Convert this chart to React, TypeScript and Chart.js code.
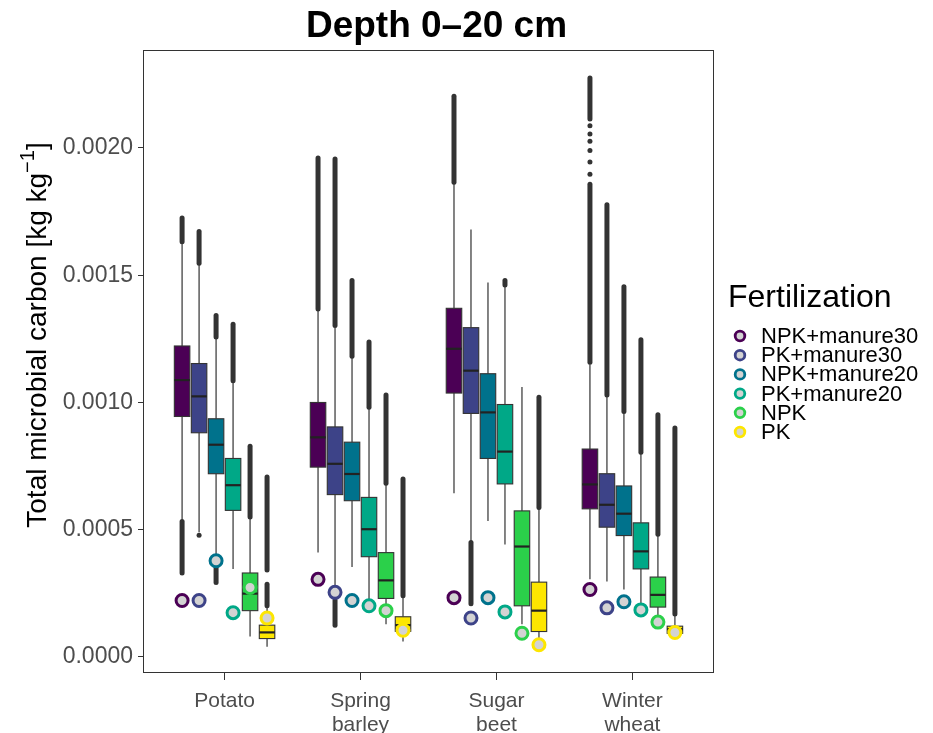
import React, { useEffect, useRef } from 'react';
import { Chart, registerables } from 'chart.js';

Chart.register(...registerables);

const FONT = '"Liberation Sans", Arial, Helvetica, sans-serif';

const chartTitle = 'Depth 0–20 cm';
const yAxisTitleMain = 'Total microbial carbon [kg kg';
const yAxisTitleSup = '−1';
const yAxisTitleEnd = ']';
const legendTitle = 'Fertilization';

const crops = ['Potato', 'Spring barley', 'Sugar beet', 'Winter wheat'];
const cropTickLabels = [['Potato'], ['Spring', 'barley'], ['Sugar', 'beet'], ['Winter', 'wheat']];
const fertilization = ['NPK+manure30', 'PK+manure30', 'NPK+manure20', 'PK+manure20', 'NPK', 'PK'];
const fertColors = ['#4B0055', '#3D4388', '#00728C', '#00A887', '#2BD04A', '#FDE600'];
const yTickValues = [0, 0.0005, 0.001, 0.0015, 0.002];
const yAxisMin = -0.000063;
const yAxisMax = 0.002385;

// rows: fertilization (order above); columns: crops (order above)
const q1Values = [
  [0.000945, 0.000746, 0.001037, 0.000582],
  [0.000881, 0.000638, 0.000957, 0.00051],
  [0.00072, 0.000614, 0.00078, 0.000477],
  [0.000576, 0.000394, 0.00068, 0.000346],
  [0.000182, 0.00023, 0.000201, 0.000196],
  [0.0000723, 0.000101, 0.0001, 0.000093],
];
const medianValues = [
  [0.001088, 0.000863, 0.001211, 0.000678],
  [0.001024, 0.000759, 0.001125, 0.000598],
  [0.000834, 0.000719, 0.000961, 0.000563],
  [0.000675, 0.000502, 0.000807, 0.000415],
  [0.000249, 0.000301, 0.000434, 0.000244],
  [0.0000965, 0.000125, 0.000182, 0.000109],
];
const q3Values = [
  [0.001222, 0.001, 0.00137, 0.000817],
  [0.001153, 0.000904, 0.001294, 0.00072],
  [0.000936, 0.000844, 0.001113, 0.000672],
  [0.00078, 0.000627, 0.000992, 0.000527],
  [0.00033, 0.00041, 0.000574, 0.000314],
  [0.000125, 0.000158, 0.000294, 0.000121],
];
const whiskerLowValues = [
  [0.000539, 0.00041, 0.000643, 0.000305],
  [0.00049, 0.000228, 0.000455, 0.000297],
  [0.000356, 0.000354, 0.000534, 0.000265],
  [0.000346, 0.000209, 0.000442, 0.000209],
  [0.00008, 0.000129, 0.000129, 0.000153],
  [0.00004, 0.000061, 0.000072, 0.000085],
];
const whiskerHighValues = [
  [0.001625, 0.00136, 0.00186, 0.00115],
  [0.00154, 0.001295, 0.00168, 0.001025],
  [0.00125, 0.001175, 0.001471, 0.00096],
  [0.00108, 0.000975, 0.001455, 0.0008],
  [0.000545, 0.000678, 0.001061, 0.000478],
  [0.000198, 0.000238, 0.000582, 0.000165],
];
const observedValues = [
  [0.000222, 0.000305, 0.000233, 0.000265],
  [0.000222, 0.000254, 0.000153, 0.000193],
  [0.000378, 0.000222, 0.000233, 0.000217],
  [0.000174, 0.000201, 0.000177, 0.000185],
  [0.000273, 0.000182, 0.000093, 0.000137],
  [0.000153, 0.000105, 0.000048, 0.000096],
];
// outlier runs [low, high]; a single outlier has low === high
const outlierRuns = [
  [
    [[0.00033, 0.000532], [0.001632, 0.001725]],
    [[0.001367, 0.001961]],
    [[0.001865, 0.002203]],
    [[0.001158, 0.001857], [0.001897, 0.001897], [0.001945, 0.001945], [0.00199, 0.00199], [0.002026, 0.002026], [0.002055, 0.002055], [0.002087, 0.002087], [0.002114, 0.002275]],
  ],
  [
    [[0.000478, 0.000478], [0.001547, 0.001672]],
    [[0.000125, 0.000222], [0.001302, 0.001957]],
    [[0.000209, 0.00045]],
    [[0.001029, 0.001777]],
  ],
  [
    [[0.000293, 0.00035], [0.001257, 0.001342]],
    [[0.001182, 0.001479]],
    [],
    [[0.000965, 0.001455]],
  ],
  [
    [[0.001085, 0.001307]],
    [[0.000981, 0.001238]],
    [[0.001462, 0.001479]],
    [[0.000804, 0.001246]],
  ],
  [
    [[0.00055, 0.000828]],
    [[0.000683, 0.001029]],
    [],
    [[0.000482, 0.000952]],
  ],
  [
    [[0.000201, 0.000286], [0.000342, 0.000707]],
    [[0.000241, 0.000699]],
    [[0.000587, 0.001021]],
    [[0.000169, 0.0009]],
  ],
];

const DODGE = 0.125;
const BOX_WIDTH = 0.114;
const groupX = (f: number, c: number) => c + 1 + (f - (fertilization.length - 1) / 2) * DODGE;

const boxPlugin = {
  id: 'boxplots',
  beforeDatasetsDraw(chart: any) {
    const { ctx, chartArea, scales } = chart;
    const xs = scales.x;
    const ys = scales.y;
    ctx.save();
    ctx.beginPath();
    ctx.rect(chartArea.left, chartArea.top, chartArea.right - chartArea.left, chartArea.bottom - chartArea.top);
    ctx.clip();
    fertilization.forEach((_, f) => {
      crops.forEach((__, c) => {
        const xc = groupX(f, c);
        const px = xs.getPixelForValue(xc);
        const x0 = xs.getPixelForValue(xc - BOX_WIDTH / 2);
        const x1 = xs.getPixelForValue(xc + BOX_WIDTH / 2);
        const yq1 = ys.getPixelForValue(q1Values[f][c]);
        const yq3 = ys.getPixelForValue(q3Values[f][c]);
        const ymed = ys.getPixelForValue(medianValues[f][c]);
        const ywl = ys.getPixelForValue(whiskerLowValues[f][c]);
        const ywh = ys.getPixelForValue(whiskerHighValues[f][c]);
        // outliers
        ctx.strokeStyle = '#333333';
        ctx.fillStyle = '#333333';
        ctx.lineCap = 'round';
        ctx.lineWidth = 5;
        outlierRuns[f][c].forEach(([lo, hi]) => {
          const ylo = ys.getPixelForValue(lo);
          const yhi = ys.getPixelForValue(hi);
          if (lo === hi) {
            ctx.beginPath();
            ctx.arc(px, ylo, 2.5, 0, Math.PI * 2);
            ctx.fill();
          } else {
            ctx.beginPath();
            ctx.moveTo(px, yhi);
            ctx.lineTo(px, ylo);
            ctx.stroke();
          }
        });
        // whiskers
        ctx.lineCap = 'butt';
        ctx.lineWidth = 1.2;
        ctx.strokeStyle = '#333333';
        ctx.beginPath();
        ctx.moveTo(px, ywh);
        ctx.lineTo(px, yq3);
        ctx.moveTo(px, yq1);
        ctx.lineTo(px, ywl);
        ctx.stroke();
        // box
        ctx.fillStyle = fertColors[f];
        ctx.fillRect(x0, yq3, x1 - x0, yq1 - yq3);
        ctx.lineWidth = 1.1;
        ctx.strokeStyle = '#333333';
        ctx.strokeRect(x0, yq3, x1 - x0, yq1 - yq3);
        // median
        ctx.lineWidth = 2.2;
        ctx.strokeStyle = '#222222';
        ctx.beginPath();
        ctx.moveTo(x0, ymed);
        ctx.lineTo(x1, ymed);
        ctx.stroke();
      });
    });
    ctx.restore();
  },
  afterDraw(chart: any) {
    const { ctx, chartArea } = chart;
    ctx.save();
    // panel border
    ctx.strokeStyle = '#333333';
    ctx.lineWidth = 1;
    ctx.strokeRect(
      Math.round(chartArea.left) + 0.5,
      Math.round(chartArea.top) + 0.5,
      Math.round(chartArea.right - chartArea.left) - 1,
      Math.round(chartArea.bottom - chartArea.top) - 1
    );
    // title
    ctx.fillStyle = '#000000';
    ctx.font = `bold 37px ${FONT}`;
    ctx.textAlign = 'center';
    ctx.textBaseline = 'alphabetic';
    ctx.fillText(chartTitle, (chartArea.left + chartArea.right) / 2 + 8, 37);

    // y-axis title with superscript
    ctx.save();
    ctx.translate(36, 335);
    ctx.rotate(-Math.PI / 2);
    const mainFont = `28px ${FONT}`;
    const supFont = `20px ${FONT}`;
    ctx.font = mainFont;
    const wMain = ctx.measureText(yAxisTitleMain).width;
    const wEnd = ctx.measureText(yAxisTitleEnd).width;
    ctx.font = supFont;
    const wSup = ctx.measureText(yAxisTitleSup).width;
    let sx = -(wMain + wSup + wEnd) / 2;
    ctx.textAlign = 'left';
    ctx.textBaseline = 'alphabetic';
    ctx.fillStyle = '#000000';
    ctx.font = mainFont;
    ctx.fillText(yAxisTitleMain, sx, 10);
    sx += wMain;
    ctx.font = supFont;
    ctx.fillText(yAxisTitleSup, sx, -2);
    sx += wSup;
    ctx.font = mainFont;
    ctx.fillText(yAxisTitleEnd, sx, 10);
    ctx.restore();

    // legend
    const lx = chartArea.right + 14;
    ctx.textAlign = 'left';
    ctx.textBaseline = 'alphabetic';
    ctx.fillStyle = '#000000';
    ctx.font = `32px ${FONT}`;
    ctx.fillText(legendTitle, lx, 307);
    ctx.font = `22px ${FONT}`;
    ctx.textBaseline = 'middle';
    fertilization.forEach((name, i) => {
      const cy = 336 + i * 19.2;
      ctx.beginPath();
      ctx.arc(lx + 12, cy, 4.8, 0, Math.PI * 2);
      ctx.fillStyle = '#D3D3D3';
      ctx.fill();
      ctx.lineWidth = 2.8;
      ctx.strokeStyle = fertColors[i];
      ctx.stroke();
      ctx.fillStyle = '#000000';
      ctx.fillText(name, lx + 33, cy + 1);
    });
    ctx.restore();
  },
};

export default function App() {
  const canvasRef = useRef<HTMLCanvasElement | null>(null);

  useEffect(() => {
    if (!canvasRef.current) return;
    const datasets = fertilization.map((name, f) => ({
      label: name,
      data: crops.map((_, c) => ({ x: groupX(f, c), y: observedValues[f][c] })),
      pointStyle: 'circle',
      pointRadius: 6,
      pointBorderWidth: 3,
      pointBackgroundColor: '#D3D3D3',
      pointBorderColor: fertColors[f],
      backgroundColor: '#D3D3D3',
      borderColor: fertColors[f],
      showLine: false,
    }));
    const chart = new Chart(canvasRef.current, {
      type: 'scatter',
      data: { datasets },
      plugins: [boxPlugin],
      options: {
        responsive: false,
        animation: false,
        devicePixelRatio: 1,
        layout: { padding: { top: 50, right: 219, bottom: 0, left: 0 } },
        plugins: {
          legend: { display: false },
          title: { display: false },
          tooltip: { enabled: false },
        },
        scales: {
          x: {
            type: 'linear',
            min: 0.4,
            max: 4.6,
            afterFit: (s: any) => {
              s.height = 60;
            },
            afterBuildTicks: (s: any) => {
              s.ticks = crops.map((_, i) => ({ value: i + 1 }));
            },
            ticks: {
              callback: (v: any) => cropTickLabels[Math.round(Number(v)) - 1] ?? '',
              font: { family: FONT, size: 21, lineHeight: 1.14 },
              color: '#4D4D4D',
              padding: 9,
              maxRotation: 0,
              autoSkip: false,
            },
            grid: { drawOnChartArea: false, drawTicks: true, tickLength: 7, color: '#333333', lineWidth: 1 },
            border: { display: false },
          },
          y: {
            type: 'linear',
            min: yAxisMin,
            max: yAxisMax,
            afterFit: (s: any) => {
              s.width = 143;
            },
            afterBuildTicks: (s: any) => {
              s.ticks = yTickValues.map((v) => ({ value: v }));
            },
            ticks: {
              callback: (v: any) => Number(v).toFixed(4),
              font: { family: FONT, size: 23 },
              color: '#4D4D4D',
              padding: 5,
            },
            grid: { drawOnChartArea: false, drawTicks: true, tickLength: 5, color: '#333333', lineWidth: 1 },
            border: { display: false },
          },
        },
      },
    });
    return () => chart.destroy();
  }, []);

  return (
    <div style={{ position: 'fixed', left: 0, top: 0, width: 933, height: 733, background: '#ffffff' }}>
      <canvas ref={canvasRef} width={933} height={733} style={{ display: 'block' }} />
    </div>
  );
}
